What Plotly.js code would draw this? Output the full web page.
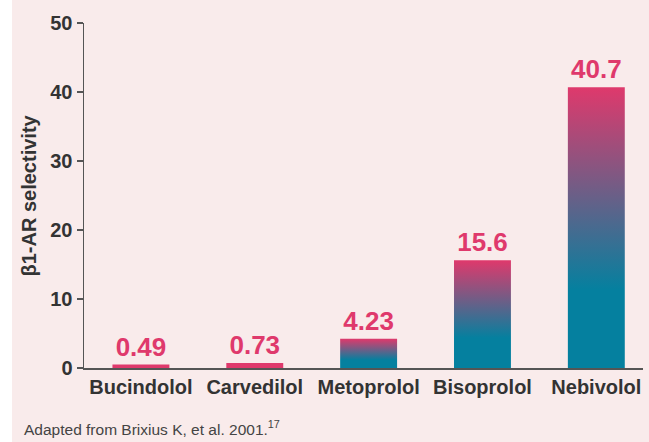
<!DOCTYPE html>
<html>
<head>
<meta charset="utf-8">
<script src="https://cdn.plot.ly/plotly-3.0.1.min.js"></script>
<style>
html, body { margin: 0; padding: 0; background: #ffffff; }
#chart { position: absolute; left: 12px; top: 0; width: 637px; height: 442px; }
</style>
</head>
<body>
<div id="chart"></div>
<script>
var drugs = ["Bucindolol", "Carvedilol", "Metoprolol", "Bisoprolol", "Nebivolol"];
var selectivity = [0.49, 0.73, 4.23, 15.6, 40.7];
var valueLabels = ["0.49", "0.73", "4.23", "15.6", "40.7"];
var yTicks = [0, 10, 20, 30, 40, 50];

var pink = "#df396c";
var teal = "#05809f";
var bg = "#f9ebeb";

var trace = {
  type: "bar",
  x: drugs,
  y: selectivity,
  text: valueLabels,
  textposition: "outside",
  constraintext: "none",
  cliponaxis: false,
  textfont: { family: "Liberation Sans, Arial, sans-serif", size: 26, color: pink, weight: "bold" },
  marker: { color: pink, line: { width: 0 } },
  hoverinfo: "none"
};

var layout = {
  width: 637,
  height: 442,
  margin: { l: 72, r: 6, t: 23, b: 74 },
  paper_bgcolor: bg,
  plot_bgcolor: bg,
  showlegend: false,
  bargap: 0.5,
  font: { family: "Liberation Sans, Arial, sans-serif", color: "#333333" },
  xaxis: {
    type: "category",
    range: [-0.5, 4.41],
    showline: true,
    linecolor: "#555555",
    linewidth: 1.5,
    ticks: "",
    showgrid: false,
    zeroline: false,
    tickfont: { size: 20, color: "#333333", weight: "bold" },
    fixedrange: true
  },
  yaxis: {
    range: [0, 50],
    tickvals: yTicks,
    ticktext: yTicks.map(String),
    showline: true,
    linecolor: "#555555",
    linewidth: 1.5,
    ticks: "outside",
    ticklen: 6,
    tickwidth: 1.2,
    tickcolor: "#555555",
    showgrid: false,
    zeroline: false,
    tickfont: { size: 20, color: "#333333", weight: "bold" },
    fixedrange: true
  },
  annotations: [
    {
      text: "β1-AR selectivity",
      textangle: -90,
      xref: "paper", yref: "paper",
      x: -56 / 559, y: 0.5,
      xanchor: "center", yanchor: "middle",
      showarrow: false,
      font: { size: 20, color: "#333333", weight: "bold" }
    },
    {
      text: "Adapted from Brixius K, et al. 2001.<sup>17</sup>",
      xref: "paper", yref: "paper",
      x: -62 / 559, y: -60 / 345,
      xanchor: "left", yanchor: "middle",
      showarrow: false,
      font: { size: 15.5, color: "#444444" }
    }
  ]
};

Plotly.newPlot("chart", [trace], layout, { displayModeBar: false, staticPlot: true }).then(function (gd) {
  var svg = gd.querySelector("svg.main-svg");
  var ns = "http://www.w3.org/2000/svg";
  var defs = svg.querySelector("defs");
  if (!defs) { defs = document.createElementNS(ns, "defs"); svg.insertBefore(defs, svg.firstChild); }
  var grad = document.createElementNS(ns, "linearGradient");
  grad.setAttribute("id", "barGrad");
  grad.setAttribute("x1", "0"); grad.setAttribute("y1", "0");
  grad.setAttribute("x2", "0"); grad.setAttribute("y2", "1");
  [[0, pink], [0.72, teal], [1, teal]].forEach(function (s) {
    var st = document.createElementNS(ns, "stop");
    st.setAttribute("offset", s[0]);
    st.setAttribute("stop-color", s[1]);
    grad.appendChild(st);
  });
  defs.appendChild(grad);
  gd.querySelectorAll(".bars .point path").forEach(function (p) {
    var h = p.getBBox().height;
    if (h > 12) p.style.fill = "url(#barGrad)";
  });
});
</script>
</body>
</html>
